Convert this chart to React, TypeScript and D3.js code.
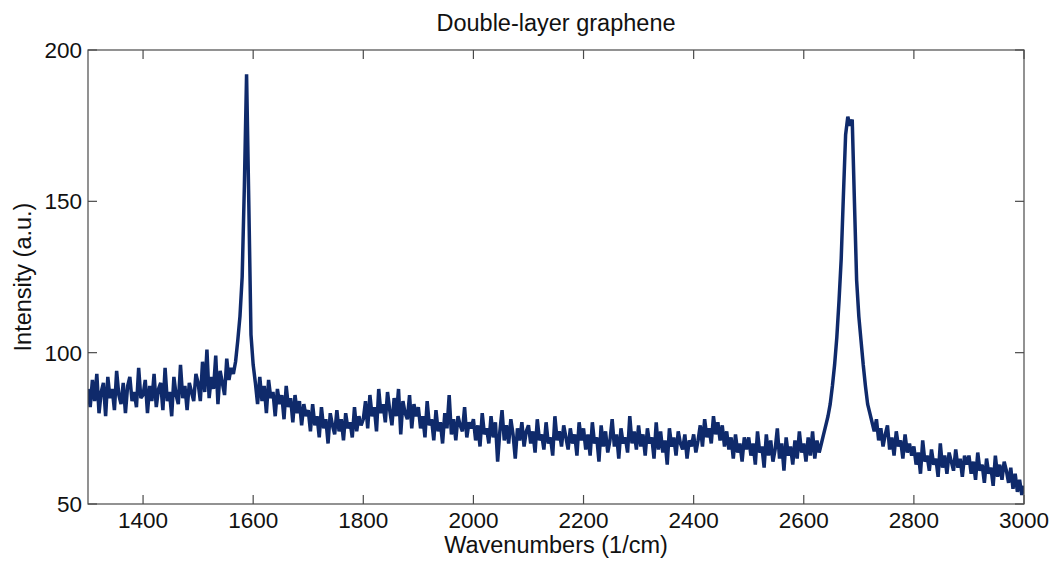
import React from "react";
import * as d3 from "d3";

const title = "Double-layer graphene";
const xLabel = "Wavenumbers (1/cm)";
const yLabel = "Intensity (a.u.)";
const xTicks = [1400, 1600, 1800, 2000, 2200, 2400, 2600, 2800, 3000];
const yTicks = [50, 100, 150, 200];
const xDomain = [1300, 3000];
const yDomain = [50, 200];
const waveStart = 1300;
const waveStep = 4;

// intensity, every 4 cm^-1
const intensity1300to1696 = [
  88, 82, 91, 84, 93, 80, 87, 90, 79, 92, 85, 88, 81, 94, 86, 83, 90, 80, 89, 92, 84, 87, 82, 95, 85,
  86, 91, 80, 89, 84, 93, 82, 88, 90, 81, 95, 84, 87, 79, 92, 86, 83, 96, 85, 89, 81, 90, 87, 84, 93,
  90, 84, 97, 87, 101, 85, 92, 88, 99, 83, 94, 90, 86, 98, 91, 95, 93, 97, 104, 112, 125, 155, 192, 150, 106,
  96, 90, 83, 92, 84, 89, 80, 91, 85, 87, 79, 88, 83, 86, 78, 89, 82, 85, 77, 86, 80, 84, 76, 83, 79,
];
const intensity1700to2096 = [
  81, 74, 83, 76, 79, 72, 82, 75, 78, 70, 80, 76, 73, 81, 74, 78, 71, 80, 75, 77, 72, 82, 74, 79, 76,
  78, 84, 75, 86, 79, 82, 74, 88, 80, 83, 77, 87, 81, 76, 85, 79, 88, 73, 84, 80, 78, 86, 75, 83, 79,
  82, 75, 79, 72, 84, 76, 78, 71, 81, 74, 77, 70, 80, 75, 86, 73, 78, 71, 79, 76, 74, 82, 72, 77, 75,
  78, 71, 76, 69, 80, 73, 75, 70, 79, 72, 77, 64, 74, 81, 71, 76, 70, 78, 73, 65, 75, 71, 77, 69, 74,
];
const intensity2100to2496 = [
  76, 70, 74, 67, 78, 71, 73, 68, 77, 70, 72, 66, 79, 71, 74, 69, 76, 72, 68, 75, 70, 73, 66, 77, 71,
  75, 68, 73, 66, 77, 70, 72, 64, 76, 69, 74, 67, 71, 78, 69, 73, 65, 75, 70, 72, 67, 79, 70, 74, 68,
  76, 69, 73, 66, 75, 70, 72, 65, 77, 68, 74, 67, 71, 63, 75, 69, 72, 66, 74, 70, 68, 73, 65, 71, 69,
  73, 67, 71, 76, 69, 78, 72, 75, 70, 79, 73, 77, 71, 76, 69, 74, 68, 72, 65, 73, 67, 70, 64, 72, 68,
];
const intensity2500to2896 = [
  72, 66, 70, 63, 74, 67, 69, 62, 73, 66, 71, 64, 68, 75, 65, 70, 61, 72, 66, 69, 63, 71, 65, 74, 67,
  70, 64, 72, 66, 74, 65, 71, 67, 70, 73, 76, 79, 83, 89, 96, 105, 117, 131, 152, 172, 178, 175, 177, 150, 124,
  112, 104, 96, 89, 83, 80, 77, 74, 78, 71, 75, 69, 73, 76, 68, 72, 66, 74, 69, 71, 65, 73, 67, 70, 66,
  69, 63, 67, 60, 71, 64, 66, 61, 68, 63, 65, 59, 70, 62, 66, 60, 67, 64, 61, 68, 62, 65, 59, 66, 63,
];
const intensity2900to3000 = [
  66, 60, 64, 58, 67, 61, 63, 57, 65, 60, 62, 56, 66, 59, 63, 58, 64, 61, 57, 62, 55, 60, 54, 58, 53,
  56,
];

const intensity = [
  ...intensity1300to1696,
  ...intensity1700to2096,
  ...intensity2100to2496,
  ...intensity2500to2896,
  ...intensity2900to3000,
];

const W = 1063;
const H = 563;
const M = { left: 88, right: 1024, top: 50, bottom: 504 };
const FONT = "Arial, 'Liberation Sans', Helvetica, sans-serif";
const LINE_COLOR = "#0f2a6b";
const AXIS_COLOR = "#4a4a4a";

export default function App() {
  const x = d3.scaleLinear().domain(xDomain).range([M.left, M.right]);
  const y = d3.scaleLinear().domain(yDomain).range([M.bottom, M.top]);
  const pts = intensity.map((v, i) => [waveStart + i * waveStep, v] as [number, number]);
  const line = d3
    .line<[number, number]>()
    .x((d) => x(d[0]))
    .y((d) => y(d[1]));
  const tickLen = 9;

  return (
    <svg
      width={W}
      height={H}
      style={{ position: "absolute", left: 0, top: 0, background: "#fff" }}
      fontFamily={FONT}
    >
      <rect x={0} y={0} width={W} height={H} fill="#fff" />
      <defs>
        <clipPath id="plotClip">
          <rect x={M.left} y={M.top} width={M.right - M.left} height={M.bottom - M.top} />
        </clipPath>
      </defs>
      <path
        d={line(pts) || ""}
        fill="none"
        stroke={LINE_COLOR}
        strokeWidth={3.5}
        strokeLinejoin="bevel"
        clipPath="url(#plotClip)"
      />
      {/* box */}
      <rect
        x={M.left}
        y={M.top}
        width={M.right - M.left}
        height={M.bottom - M.top}
        fill="none"
        stroke={AXIS_COLOR}
        strokeWidth={1.2}
      />
      {/* x ticks */}
      {xTicks.map((t) => (
        <g key={"x" + t}>
          <line x1={x(t)} x2={x(t)} y1={M.bottom} y2={M.bottom - tickLen} stroke={AXIS_COLOR} strokeWidth={1.2} />
          <line x1={x(t)} x2={x(t)} y1={M.top} y2={M.top + tickLen} stroke={AXIS_COLOR} strokeWidth={1.2} />
          <text x={x(t)} y={528} textAnchor="middle" fontSize={22.5} fill="#111">
            {t}
          </text>
        </g>
      ))}
      {/* y ticks */}
      {yTicks.map((t) => (
        <g key={"y" + t}>
          <line x1={M.left} x2={M.left + tickLen} y1={y(t)} y2={y(t)} stroke={AXIS_COLOR} strokeWidth={1.2} />
          <line x1={M.right} x2={M.right - tickLen} y1={y(t)} y2={y(t)} stroke={AXIS_COLOR} strokeWidth={1.2} />
          <text x={82} y={y(t) + 8} textAnchor="end" fontSize={22.5} fill="#111">
            {t}
          </text>
        </g>
      ))}
      <text x={(M.left + M.right) / 2} y={31} textAnchor="middle" fontSize={23.5} fill="#111">
        {title}
      </text>
      <text x={(M.left + M.right) / 2} y={553} textAnchor="middle" fontSize={23.5} fill="#111">
        {xLabel}
      </text>
      <text
        transform={`translate(31, ${(M.top + M.bottom) / 2}) rotate(-90)`}
        textAnchor="middle"
        fontSize={23.5}
        fill="#111"
      >
        {yLabel}
      </text>
    </svg>
  );
}
